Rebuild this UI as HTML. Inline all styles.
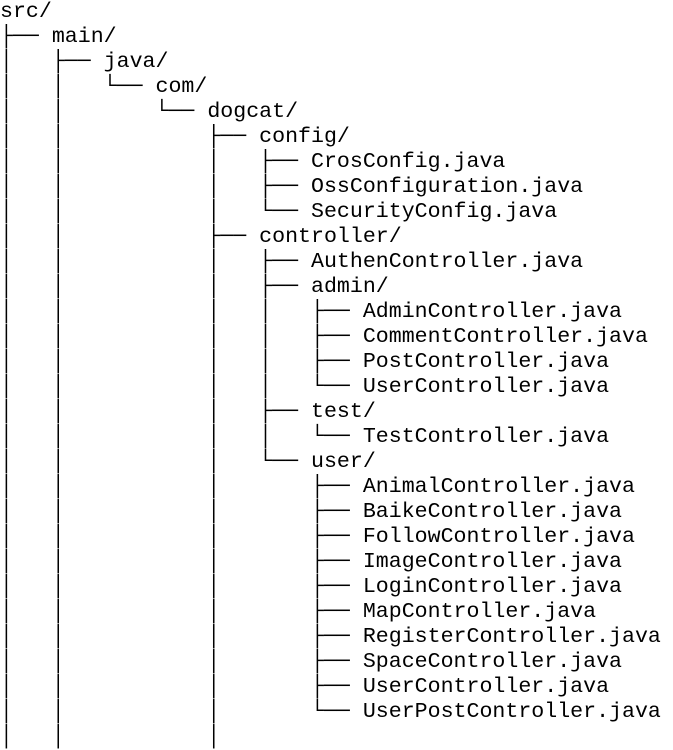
<!DOCTYPE html>
<html><head><meta charset="utf-8"><style>
html,body{margin:0;padding:0;background:#fff;width:673px;height:724px;overflow:hidden}
pre{margin:0;position:absolute;left:0;top:0;font-family:"Liberation Mono","DejaVu Sans Mono",monospace;font-size:21.6px;line-height:25px;color:#000}
</style></head><body><pre>src/
├── main/
│   ├── java/
│   │   └── com/
│   │       └── dogcat/
│   │           ├── config/
│   │           │   ├── CrosConfig.java
│   │           │   ├── OssConfiguration.java
│   │           │   └── SecurityConfig.java
│   │           ├── controller/
│   │           │   ├── AuthenController.java
│   │           │   ├── admin/
│   │           │   │   ├── AdminController.java
│   │           │   │   ├── CommentController.java
│   │           │   │   ├── PostController.java
│   │           │   │   └── UserController.java
│   │           │   ├── test/
│   │           │   │   └── TestController.java
│   │           │   └── user/
│   │           │       ├── AnimalController.java
│   │           │       ├── BaikeController.java
│   │           │       ├── FollowController.java
│   │           │       ├── ImageController.java
│   │           │       ├── LoginController.java
│   │           │       ├── MapController.java
│   │           │       ├── RegisterController.java
│   │           │       ├── SpaceController.java
│   │           │       ├── UserController.java
│   │           │       └── UserPostController.java
│   │           │
</pre></body></html>
